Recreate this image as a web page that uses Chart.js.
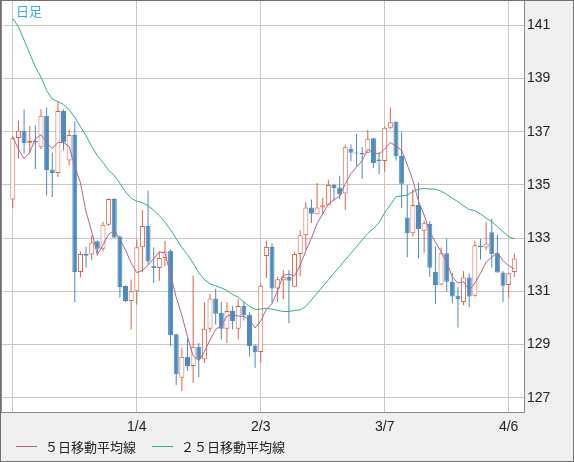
<!DOCTYPE html>
<html><head><meta charset="utf-8">
<script src="https://cdn.jsdelivr.net/npm/chart.js@4.4.0/dist/chart.umd.min.js"></script>
<style>html,body{margin:0;padding:0;background:#f0f0f0;}canvas{display:block;}</style>
</head><body>
<canvas id="c" width="574" height="462"></canvas>
<script>
// ---- data ----
const dates = ['12/5','12/6','12/7','12/8','12/9','12/12','12/13','12/14','12/15','12/16','12/19','12/20','12/21','12/22','12/23','12/26','12/27','12/28','12/29','12/30',
 '1/2','1/3','1/4','1/5','1/6','1/9','1/10','1/11','1/12','1/13','1/16','1/17','1/18','1/19','1/20','1/23','1/24','1/25','1/26','1/27','1/30','1/31',
 '2/1','2/2','2/3','2/6','2/7','2/8','2/9','2/10','2/13','2/14','2/15','2/16','2/17','2/20','2/21','2/22','2/23','2/24','2/27','2/28',
 '3/1','3/2','3/3','3/6','3/7','3/8','3/9','3/10','3/13','3/14','3/15','3/16','3/17','3/20','3/21','3/22','3/23','3/24','3/27','3/28','3/29','3/30','3/31',
 '4/3','4/4','4/5','4/6','4/7'];
const openV = [134.45,136.77,137.04,136.59,136.66,136.42,137.60,135.58,135.45,137.78,135.92,136.88,131.73,132.40,132.38,132.88,132.60,133.50,134.47,133.06,
 131.20,130.64,131.00,132.66,133.46,131.94,131.88,132.25,132.53,129.38,127.75,128.54,128.19,128.91,128.44,129.59,130.73,130.19,129.59,130.26,129.59,130.45,
 130.12,128.96,128.72,132.33,132.67,131.11,131.42,131.55,131.17,132.40,133.11,134.15,133.90,134.15,134.24,135.00,134.90,134.68,136.36,136.22,
 136.20,136.21,136.76,135.96,135.90,137.15,137.38,136.09,133.78,133.18,134.25,133.28,133.53,131.74,131.26,132.43,131.36,130.83,130.60,131.52,130.83,132.72,132.65,
 133.22,132.43,131.71,131.24,131.73];
const highV = [136.85,137.42,137.85,137.22,137.25,137.85,137.90,136.22,138.12,137.85,137.10,137.40,132.50,132.68,133.10,132.92,133.62,134.50,134.52,133.10,
 131.22,131.44,132.95,134.05,134.78,132.66,132.50,132.90,132.58,129.40,128.88,129.20,131.59,129.06,130.60,130.91,131.10,130.60,130.60,130.44,130.70,130.60,
 130.20,129.00,131.30,132.90,132.80,131.55,131.80,131.80,132.49,133.30,134.36,134.45,135.07,134.51,135.20,135.05,135.35,136.51,136.52,136.93,
 136.43,137.07,136.78,136.24,137.20,137.91,137.40,136.99,135.00,134.84,135.09,133.65,133.64,132.68,132.65,132.99,131.70,131.17,131.76,131.67,132.90,132.97,133.60,
 133.73,133.14,131.75,131.70,132.42];
const lowV = [134.12,136.00,136.17,136.17,135.60,136.35,134.60,134.55,135.30,136.30,135.73,130.60,131.53,131.90,132.17,132.34,132.50,133.46,133.00,130.76,
 130.60,129.56,130.50,131.72,132.00,131.31,131.40,131.94,128.94,127.48,127.25,128.00,127.56,127.78,128.30,129.48,129.75,129.19,129.06,129.56,129.19,129.90,
 128.55,128.12,128.32,131.50,130.55,130.60,130.70,129.80,131.17,131.57,132.55,133.57,133.90,133.92,134.24,134.40,134.46,134.07,135.89,135.70,
 135.23,136.20,135.64,135.40,135.50,137.10,135.92,134.12,132.28,133.06,132.24,132.45,131.55,130.52,131.23,130.98,130.55,129.64,130.48,130.40,130.80,132.20,132.55,
 131.90,131.70,130.60,130.76,131.54];
const closeV = [136.76,137.04,136.57,136.66,136.60,137.60,135.56,135.45,137.78,136.60,136.88,131.73,132.40,132.34,132.84,132.60,133.50,134.47,133.02,131.16,
 130.64,131.00,132.66,133.46,132.12,131.88,132.25,132.50,129.35,127.88,128.54,128.19,128.91,128.44,129.59,130.73,130.16,129.59,130.26,129.88,130.45,130.10,
 128.94,128.71,131.21,132.67,131.11,131.45,131.55,131.40,132.40,133.11,134.15,133.92,134.15,134.24,135.00,134.89,134.64,136.42,136.21,136.18,
 136.15,136.74,135.83,135.90,137.15,137.36,136.08,135.05,133.18,134.25,133.33,133.56,131.89,131.24,132.43,131.36,130.80,130.70,131.52,130.80,132.73,132.66,132.80,
 132.39,131.71,131.21,131.68,132.23];
const ma5 = [136.79,136.35,135.98,136.23,136.73,136.89,136.60,136.37,136.60,136.60,136.45,135.69,135.08,133.99,133.24,132.38,132.74,133.15,133.29,132.95,
 132.56,132.06,131.70,131.79,131.98,132.23,132.48,132.44,131.62,130.77,130.10,129.29,128.57,128.39,128.73,129.17,129.57,129.70,130.07,130.12,130.07,130.06,
 129.93,129.62,129.88,130.33,130.53,131.03,131.60,131.64,131.58,131.98,132.52,133.00,133.55,133.91,134.29,134.44,134.58,135.04,135.43,135.67,
 135.92,136.34,136.22,136.16,136.35,136.60,136.46,136.31,135.76,135.18,134.38,133.87,133.24,132.85,132.49,132.10,131.54,131.31,131.36,131.04,131.31,131.68,132.10,
 132.28,132.46,132.15,131.96,131.84];
const ma25 = [141.26,140.95,140.45,139.94,139.44,139.06,138.55,138.23,138.14,138.03,137.83,137.54,137.20,136.85,136.45,136.10,135.85,135.55,135.36,135.06,
 134.74,134.50,134.39,134.33,134.22,134.05,133.85,133.60,133.31,132.98,132.65,132.38,132.06,131.70,131.44,131.28,131.21,131.13,131.03,130.88,130.78,130.60,
 130.43,130.32,130.33,130.36,130.33,130.28,130.24,130.24,130.28,130.30,130.43,130.68,130.93,131.18,131.43,131.68,131.93,132.18,132.43,132.68,
 132.93,133.18,133.36,133.58,133.96,134.25,134.56,134.59,134.62,134.75,134.84,134.87,134.85,134.84,134.77,134.65,134.50,134.37,134.21,134.08,134.03,133.91,133.75,
 133.62,133.43,133.24,133.06,132.97];
const gridDates = ['12/5','1/4','2/3','3/7','4/6'];
const shownDates = ['1/4','2/3','3/7','4/6'];
const yTicks = [127,129,131,133,135,137,139,141];
const seriesNames = ['５日移動平均線','２５日移動平均線'];
const chartTitle = '日足';

// ---- styles ----
const UP = '#dc6444', DOWN = '#4b8bc2', C_MA5 = '#b5648f', C_MA25 = '#2db574';
const isUp = closeV.map((c,i)=> c >= openV[i]);

const wickData = dates.map((d,i)=>({x:i, y:[lowV[i], highV[i]]}));
const bodyData = dates.map((d,i)=>({x:i, y:[openV[i], closeV[i]]}));
const ma5Data = ma5.map((v,i)=>({x:i, y:v}));
const ma25Data = ma25.map((v,i)=>({x:i, y:v}));

const decor = {
  id:'decor',
  beforeDraw(chart){
    const {ctx, chartArea:a} = chart;
    ctx.save();
    ctx.fillStyle = '#f0f0f0';
    ctx.fillRect(0,0,chart.width,chart.height);
    ctx.fillStyle = '#ffffff';
    ctx.fillRect(a.left, a.top, a.right-a.left, a.bottom-a.top);
    ctx.restore();
  },
  afterDraw(chart){
    const {ctx, chartArea:a} = chart;
    ctx.save();
    ctx.strokeStyle = '#8a8a8a';
    ctx.lineWidth = 1;
    ctx.strokeRect(a.left-0.5, a.top-0.5, a.right-a.left+1, a.bottom-a.top+1);
    ctx.strokeStyle = '#707070';
    ctx.strokeRect(0.5,0.5,chart.width-1,chart.height-1);
    // title
    ctx.fillStyle = '#39a9e1';
    ctx.font = '13px "Noto Sans CJK JP"';
    ctx.textBaseline = 'middle';
    ctx.textAlign = 'left';
    ctx.fillText(chartTitle, 16, 11);
    // legend
    const items = [{c:C_MA5, x:16}, {c:C_MA25, x:152}];
    ctx.font = '13px "Noto Sans CJK JP"';
    items.forEach((it,k)=>{
      const y = 446;
      ctx.strokeStyle = it.c;
      ctx.beginPath(); ctx.moveTo(it.x, y+0.5); ctx.lineTo(it.x+21, y+0.5); ctx.stroke();
      ctx.fillStyle = '#222';
      ctx.fillText(chart.data.datasets[k].label, it.x+29, y+1);
    });
    ctx.restore();
  }
};

new Chart(document.getElementById('c'), {
  type:'bar',
  data:{ datasets:[
    {type:'line', label:seriesNames[0], data:ma5Data, borderColor:C_MA5, borderWidth:1, pointRadius:0, tension:0, order:0},
    {type:'line', label:seriesNames[1], data:ma25Data, borderColor:C_MA25, borderWidth:1, pointRadius:0, tension:0, order:1},
    {type:'bar', label:'body', data:bodyData, backgroundColor:isUp.map(u=>u?'#ffffff':DOWN), borderColor:isUp.map(u=>u?UP:DOWN),
      borderWidth:1, borderSkipped:false, barThickness:5, grouped:false, inflateAmount:0, order:2},
    {type:'bar', label:'wick', data:wickData, backgroundColor:isUp.map(u=>u?UP:DOWN), borderWidth:0,
      barThickness:1, grouped:false, inflateAmount:0, order:3}
  ]},
  options:{
    responsive:false, animation:false, events:[],
    layout:{padding:{left:2, top:1, right:0, bottom:0}},
    plugins:{legend:{display:false}, tooltip:{enabled:false}},
    scales:{
      x:{type:'linear', min:-1.92, max:90.72, offset:false,
        afterBuildTicks:s=>{ s.ticks = gridDates.map(d=>({value:dates.indexOf(d)})); },
        ticks:{autoSkip:false, maxRotation:0, padding:7, color:'#222', font:{family:'Liberation Sans', size:14},
          callback:v=> shownDates.includes(dates[v]) ? dates[v] : ''},
        grid:{color:'#c8c8c8', lineWidth:1, drawTicks:false, offset:false},
        border:{display:false},
        afterFit:s=>{ s.height = 50; s.paddingLeft = 0; s.paddingRight = 0; }
      },
      y:{type:'linear', position:'right', min:126.46, max:141.92, beginAtZero:false,
        afterBuildTicks:s=>{ s.ticks = yTicks.map(v=>({value:v})); },
        ticks:{padding:3, color:'#222', font:{family:'Liberation Sans', size:14}, callback:v=>String(v)},
        grid:{color:'#c8c8c8', lineWidth:1, drawTicks:false},
        border:{display:false},
        afterFit:s=>{ s.width = 50; s.paddingTop = 0; s.paddingBottom = 0; }
      }
    }
  },
  plugins:[decor]
});
</script>
</body></html>
